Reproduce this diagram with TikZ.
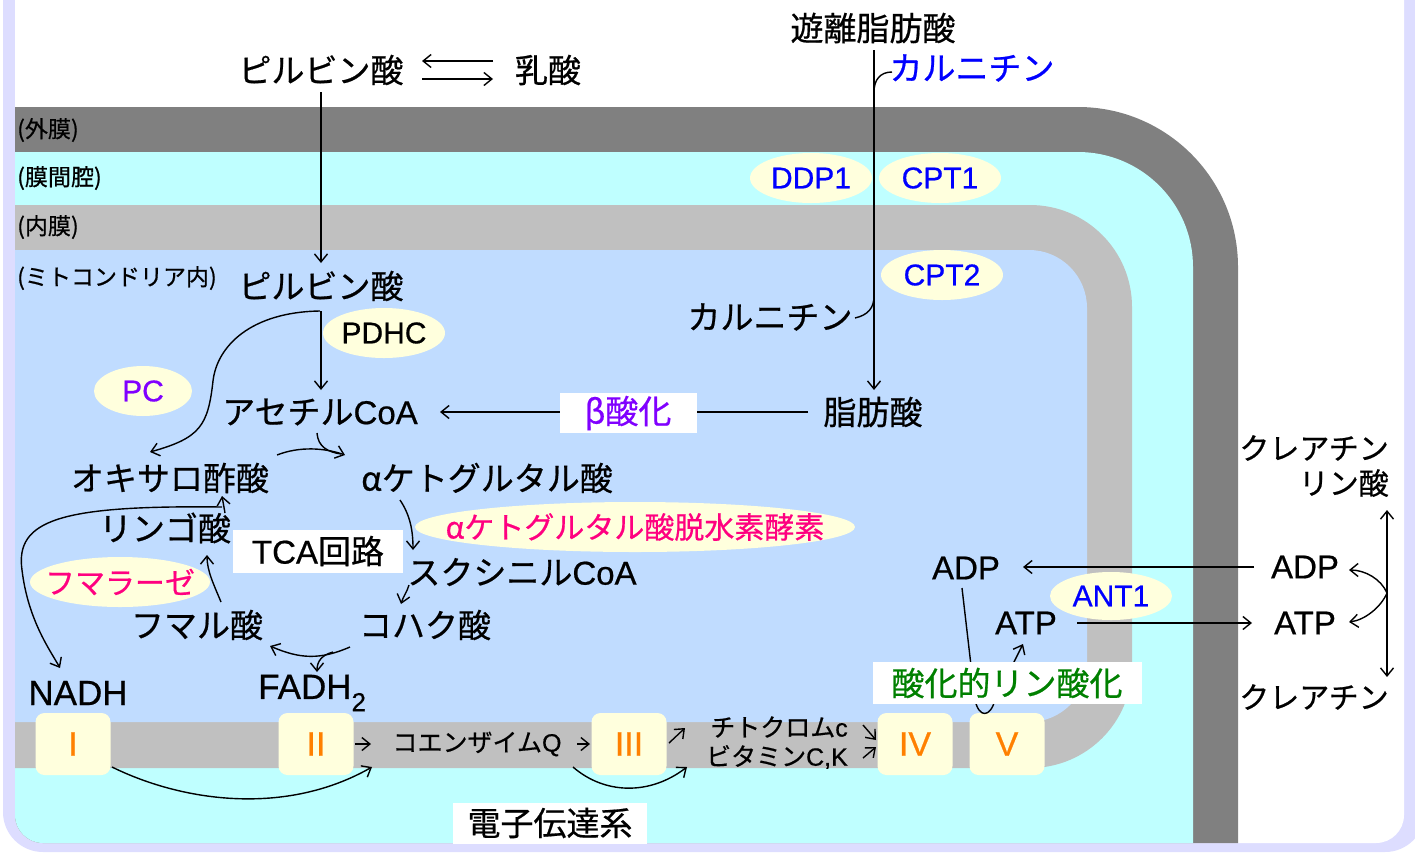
\documentclass[tikz,border=0pt]{standalone}
\usepackage{fontspec}
\setmainfont[FakeBold=0.6]{Liberation Sans}
\newfontfamily\jp[FakeBold=0.6]{Noto Sans CJK JP}
\usetikzlibrary{arrows.meta,calc}
\definecolor{lav}{HTML}{DDDDFF}
\definecolor{dgray}{HTML}{808080}
\definecolor{cyn}{HTML}{BFFFFF}
\definecolor{lgray}{HTML}{C0C0C0}
\definecolor{mblue}{HTML}{C0DCFF}
\definecolor{ylw}{HTML}{FFFFDD}
\definecolor{blu}{HTML}{0000FF}
\definecolor{prp}{HTML}{8000FF}
\definecolor{mag}{HTML}{FF0080}
\definecolor{grn}{HTML}{008000}
\definecolor{orng}{HTML}{FF8000}
\newcommand\fsz[1]{\fontsize{#1}{#1}\selectfont}
\tikzset{
 lbl/.style={inner sep=0pt, font=\fsz{33}},
 sm/.style={inner sep=0pt, font=\fsz{23}\jp, anchor=west},
 enz/.style={inner sep=0pt, font=\fsz{30}},
 small/.style={inner sep=0pt, font=\fsz{25}},
 arr/.style={line width=1.4pt, -{Straight Barb[length=8pt,width=13pt]}},
 dbl/.style={line width=1.4pt, {Straight Barb[length=8pt,width=13pt]}-{Straight Barb[length=8pt,width=13pt]}},
 ln/.style={line width=1.4pt},
 cbox/.style={fill=ylw, rounded corners=9pt, minimum width=75pt, minimum height=62pt, inner sep=0pt, font=\fsz{34}, text=orng},
 wbox/.style={fill=white, inner sep=0pt},
}
\begin{document}
\begin{tikzpicture}[x=1pt,y=-1pt]
\useasboundingbox (0,0) rectangle (1415,852);
\fill[white] (0,0) rectangle (1415,852);
\fill[lav, rounded corners=40pt] (3,-100) rectangle (1425,852);
\fill[white, rounded corners=28pt] (15,-100) rectangle (1404,843);
\begin{scope}
\clip[rounded corners=28pt] (15,-100) rectangle (1404,843);
\fill[dgray, rounded corners=160pt] (-400,107) rectangle (1238,1300);
\fill[cyn, rounded corners=115pt] (-400,152) rectangle (1193,1300);
\fill[lgray, rounded corners=102pt] (-400,205) rectangle (1132,768);
\fill[mblue, rounded corners=58pt] (-400,250) rectangle (1087,722);
\end{scope}

% layer labels
\node[sm] (lom) at (17,130) {(外膜)};
\node[sm] (lims) at (17,178) {(膜間腔)};
\node[sm] (lim) at (17,227) {(内膜)};
\node[sm] (lmx) at (17,278) {(ミトコンドリア内)};

% ellipses
\fill[ylw] (811,178) ellipse [x radius=61pt, y radius=25pt];
\fill[ylw] (940,178) ellipse [x radius=61pt, y radius=25pt];
\fill[ylw] (942,275) ellipse [x radius=61pt, y radius=25pt];
\fill[ylw] (384,333) ellipse [x radius=61pt, y radius=25pt];
\fill[ylw] (143,391) ellipse [x radius=49pt, y radius=25pt];
\fill[ylw] (635,527) ellipse [x radius=220pt, y radius=25pt];
\fill[ylw] (120,582) ellipse [x radius=90pt, y radius=25pt];
\fill[ylw] (1111,596) ellipse [x radius=61pt, y radius=24pt];

\node[enz, text=blu] (ddp) at (811,178) {DDP1};
\node[enz, text=blu] (cpt1) at (940,178) {CPT1};
\node[enz, text=blu] (cpt2) at (942,275) {CPT2};
\node[enz] (pdhc) at (384,333) {PDHC};
\node[enz, text=prp] (pc) at (143,391) {PC};
\node[enz, text=mag] (akgdh) at (635,527) {\jp αケトグルタル酸脱水素酵素};
\node[enz, text=mag] (fumz) at (120,582) {\jp フマラーゼ};
\node[enz, text=blu] (ant) at (1111,596) {ANT1};

% main labels
\node[lbl] (pyr1) at (321,70) {\jp ピルビン酸};
\node[lbl] (lac) at (548,70) {\jp 乳酸};
\node[lbl] (ffa) at (873,28) {\jp 遊離脂肪酸};
\node[lbl, text=blu] (carn1) at (972,68) {\jp カルニチン};
\node[lbl] (pyr2) at (321,286) {\jp ピルビン酸};
\node[lbl] (carn2) at (770,317) {\jp カルニチン};
\node[lbl] (acoa) at (320,412) {{\jp アセチル}CoA};
\node[lbl] (fa) at (873,412) {\jp 脂肪酸};
\node[lbl] (oaa) at (170,478) {\jp オキサロ酢酸};
\node[lbl] (akg) at (487,478) {\jp αケトグルタル酸};
\node[lbl] (mal) at (165,528) {\jp リンゴ酸};
\node[lbl] (scoa) at (522,572) {{\jp スクシニル}CoA};
\node[lbl] (succ) at (425,625) {\jp コハク酸};
\node[lbl] (fum) at (197,625) {\jp フマル酸};
\node[lbl, font=\fsz{35}] (nadh) at (78,693) {NADH};
\node[lbl, font=\fsz{35}, anchor=west] (fadh) at (258,693) {FADH\raisebox{-0.35em}{\fsz{26}2}};
\coordinate (fadhc) at (316,693);
\node[lbl] (adp1) at (966,568) {ADP};
\node[lbl] (atp1) at (1026,623) {ATP};
\node[lbl] (adp2) at (1305,567) {ADP};
\node[lbl] (atp2) at (1305,623) {ATP};
\node[enz, anchor=east] (crp1) at (1389,448) {\jp クレアチン};
\node[enz, anchor=east] (crp2) at (1389,483) {\jp リン酸};
\node[enz] (cr) at (1314,697) {\jp クレアチン};

% connectors top
\draw[arr] ($(lac)+(-55,-9)$) -- ($(pyr1)+(101,-9)$);
\draw[arr] ($(pyr1)+(101,9)$) -- ($(lac)+(-55,9)$);
\draw[arr] ($(pyr1)+(0,22)$) -- ($(pyr2)+(0,-23)$);
\draw[arr] ($(ffa)+(1,22)$) -- ($(fa)+(1,-22)$);
\draw[ln] ($(carn1)+(-80,4)$) .. controls ($(carn1)+(-92,4)$) and ($(ffa)+(1,52)$) .. ($(ffa)+(1,64)$);
\draw[ln] ($(carn2)+(85,1)$) .. controls ($(carn2)+(98,-2)$) and ($(fa)+(1,-104)$) .. ($(fa)+(1,-116)$);

% matrix connectors
\draw[arr] ($(pyr2)+(0,25)$) -- ($(acoa)+(1,-22)$);
\draw[arr] ($(pyr2)+(-1,25)$) .. controls ($(pyr2)+(-70,26)$) and ($(pyr2)+(-104,60)$) .. ($(pyr2)+(-108,95)$) .. controls ($(pyr2)+(-113,140)$) and ($(oaa)+(30,-40)$) .. ($(oaa)+(-20,-26)$);
\draw[arr] ($(fa)+(-65,0)$) -- ($(acoa)+(120,0)$);
\node[wbox, minimum width=137pt, minimum height=40pt, font=\fsz{33}, text=prp] (beta) at (628,413) {\jp β酸化};
\draw[arr] ($(oaa)+(107,-23)$) .. controls ($(oaa)+(130,-32)$) and ($(akg)+(-162,-30)$) .. ($(akg)+(-142,-23)$);
\draw[ln] ($(acoa)+(-3,21)$) .. controls ($(acoa)+(-2,35)$) and ($(acoa)+(8,40)$) .. ($(akg)+(-146,-24)$);
\draw[arr] ($(akg)+(-87,22)$) .. controls ($(akg)+(-77,37)$) and ($(scoa)+(-109,-42)$) .. ($(scoa)+(-109,-22)$);
\draw[arr] ($(scoa)+(-113,13)$) .. controls ($(scoa)+(-115,20)$) and ($(succ)+(-22,-28)$) .. ($(succ)+(-24,-21)$);
\draw[arr] ($(succ)+(-75,22)$) .. controls ($(succ)+(-105,35)$) and ($(fum)+(103,34)$) .. ($(fum)+(73,21)$);
\draw[arr] ($(succ)+(-92,27)$) .. controls ($(succ)+(-103,30)$) and ($(fadhc)+(1,-32)$) .. ($(fadhc)+(1,-21)$);
\draw[arr] ($(fum)+(24,-23)$) .. controls ($(fum)+(17,-40)$) and ($(mal)+(42,43)$) .. ($(mal)+(42,27)$);
\draw[arr] ($(mal)+(60,-15)$) -- ($(oaa)+(52,18)$);
\draw[arr] ($(mal)+(57,-21)$) .. controls ($(mal)+(-105,-23)$) and ($(mal)+(-150,-8)$) .. ($(mal)+(-143,42)$) .. controls ($(mal)+(-137,92)$) and ($(nadh)+(-28,-43)$) .. ($(nadh)+(-18,-25)$);
\node[wbox, minimum width=170pt, minimum height=43pt, font=\fsz{33}] (tca) at (318,551) {TCA{\jp 回路}};

% electron transport chain
\node[cbox] (b1) at (73,744) {I};
\node[cbox] (b2) at (316,744) {II};
\node[cbox] (b3) at (629,744) {III};
\node[cbox] (b4) at (915,744) {IV};
\node[cbox] (b5) at (1007,744) {V};
\node[small] (coq) at (477,744) {{\jp コエンザイム}Q};
\node[small, anchor=east] (cytc) at (848,727) {{\jp チトクロム}c};
\node[small, anchor=east] (vitk) at (848,757) {{\jp ビタミン}C,K};
\draw[arr] ($(b2)+(39,0)$) -- ($(coq)+(-106,0)$);
\draw[arr] ($(b3)+(-52,0)$) -- ($(b3)+(-39,0)$);
\draw[arr] ($(b3)+(40,-1)$) -- ($(b3)+(56,-16)$);
\draw[arr] ($(b4)+(-52,-19)$) -- ($(b4)+(-39,-4)$);
\draw[arr] ($(b4)+(-52,14)$) -- ($(b4)+(-39,3)$);
\draw[arr] ($(b1)+(39,23)$) .. controls ($(b1)+(110,58)$) and ($(b2)+(-30,72)$) .. ($(b2)+(56,23)$);
\draw[arr] ($(b3)+(-56,23)$) .. controls ($(b3)+(-25,50)$) and ($(b3)+(20,52)$) .. ($(b3)+(58,23)$);
\node[wbox, minimum width=194pt, minimum height=41pt, font=\fsz{33}] (etc) at (550,823) {\jp 電子伝達系};

% ADP / ATP
\draw[arr] ($(adp2)+(-51,0)$) -- ($(adp1)+(57,-1)$);
\draw[arr] ($(atp1)+(51,0)$) -- ($(atp2)+(-53,0)$);
\draw[arr] ($(adp1)+(-4,20)$) -- ($(adp1)+(9,132)$) .. controls ($(adp1)+(13,150)$) and ($(adp1)+(24,150)$) .. ($(adp1)+(29,132)$) -- ($(atp1)+(-3,21)$);
\node[wbox, minimum width=269pt, minimum height=42pt, font=\fsz{33}, text=grn] (oxp) at (1007,683) {\jp 酸化的リン酸化};
\draw[dbl] ($(crp2.east)+(-2,27)$) -- ($(cr)+(73,-20)$);
\coordinate (cm) at ($(cr)+(73,-104)$);
\draw[arr] (cm) .. controls ($(cm)+(-6,-14)$) and ($(adp2)+(60,3)$) .. ($(adp2)+(44,3)$);
\draw[arr] (cm) .. controls ($(cm)+(-6,14)$) and ($(atp2)+(60,-3)$) .. ($(atp2)+(44,-1)$);
\end{tikzpicture}
\end{document}
